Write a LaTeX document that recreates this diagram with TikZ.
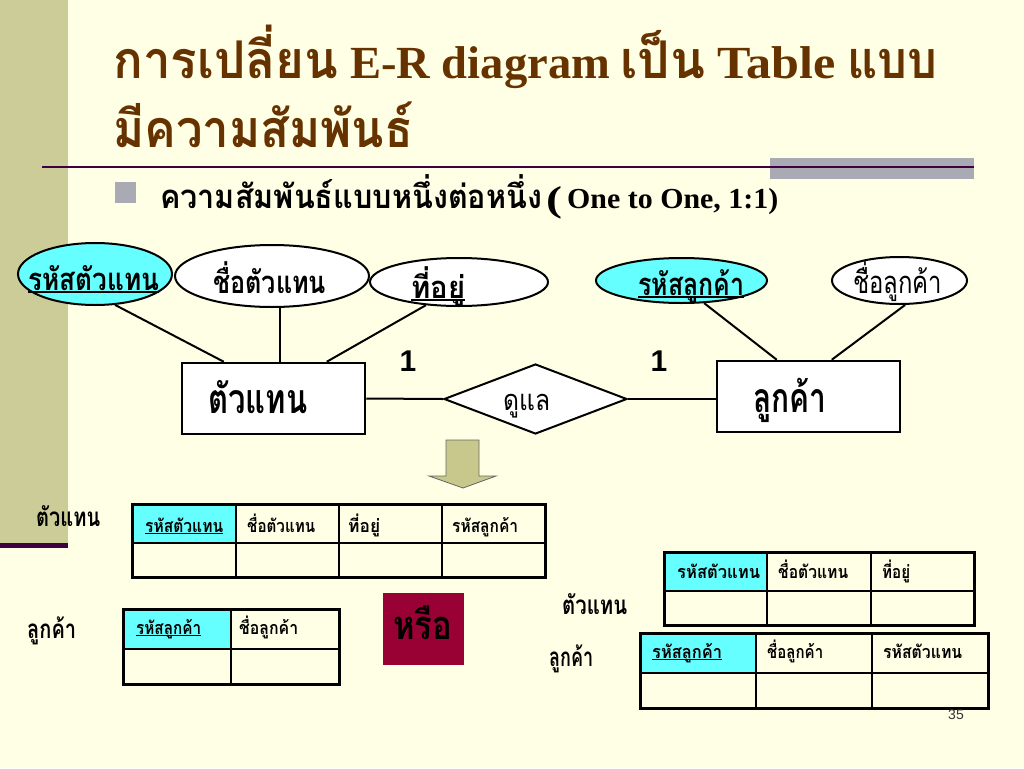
\documentclass[tikz,border=0pt]{standalone}
\usepackage{fontspec}
\setmainfont{Liberation Serif}
\newfontfamily\thai[Script=Thai]{Loma}
\newfontfamily\arial{Liberation Sans}
\usetikzlibrary{shapes.geometric,calc}
\definecolor{bg}{RGB}{255,255,229}
\definecolor{strip}{RGB}{204,204,153}
\definecolor{rulec}{RGB}{64,0,64}
\definecolor{graybar}{RGB}{170,170,180}
\definecolor{keyc}{RGB}{102,255,255}
\definecolor{titlec}{RGB}{102,51,0}
\definecolor{orbox}{RGB}{153,0,51}
\definecolor{arrowc}{RGB}{200,200,140}
\newcommand\ul[1]{\setbox0\hbox{#1}\rlap{\rule[-0.09em]{\wd0}{0.05em}}\box0}
\newcommand\fw[2]{\resizebox{#1pt}{\height}{#2}}
\newcommand\tth[2]{\fw{#1}{\thai\fontsize{52}{56}\selectfont #2}}
\begin{document}
\begin{tikzpicture}[x=1pt,y=-1pt,
  txt/.style={anchor=base west, inner sep=0pt},
  attr/.style={ellipse, draw, line width=2pt, fill=white, inner sep=0pt},
  ent/.style={rectangle, draw, line width=2.5pt, fill=white, minimum width=183pt, minimum height=71pt, inner sep=0pt},
  rel/.style={diamond, draw, line width=2pt, fill=white, minimum width=183pt, minimum height=70pt, inner sep=0pt},
  conn/.style={line width=2pt},
  thin/.style={line width=1.5pt},
  outer/.style={line width=3pt},
  big/.style={font=\thai\bfseries\fontsize{41}{44}\selectfont},
  mid/.style={font=\thai\bfseries\fontsize{31}{34}\selectfont},
  lab/.style={font=\thai\bfseries\fontsize{26}{28}\selectfont},
  cell/.style={font=\thai\bfseries\fontsize{18}{20}\selectfont}]
\useasboundingbox (0,0) rectangle (1024,768);
\fill[bg] (0,0) rectangle (1024,768);
\fill[strip] (0,0) rectangle (68,545);
\fill[rulec] (0,543) rectangle (68,548);
\fill[graybar] (770,158) rectangle (974,179);
\draw[rulec, line width=2.5pt] (42,167) -- (974,167);
\fill[graybar] (115,182) rectangle (136,203);

% title
\node[txt, text=titlec, font=\bfseries\fontsize{46}{50}\selectfont] (title1) at (113,78)
  {\tth{225}{การเปลี่ยน}\hspace{12pt}\fw{260}{E-R diagram}\hspace{10pt}\tth{85}{เป็น}\hspace{12pt}\fw{118}{Table}\hspace{12pt}\tth{90}{แบบ}};
\node[txt, text=titlec, font=\bfseries] (title2) at (113,147)
  {\tth{300}{มีความสัมพันธ์}};
\node[txt, font=\thai\bfseries\fontsize{33}{36}\selectfont] (sub1) at (160,208)
  {\fw{382}{ความสัมพันธ์แบบหนึ่งต่อหนึ่ง}};
\node[txt, font=\bfseries\fontsize{36}{38}\selectfont] (sub2) at (546,211) {\fw{16}{(}};
\node[txt, font=\bfseries\fontsize{29}{32}\selectfont] (sub3) at (567,208) {\fw{211}{One to One, 1:1)}};

% ER diagram
\node[attr, fill=keyc, minimum width=154pt, minimum height=62pt] (a1) at (95,274) {};
\node[attr, minimum width=194pt, minimum height=62pt] (a2) at (272,276) {};
\node[attr, minimum width=178pt, minimum height=48pt] (a3) at (459,282) {};
\node[attr, fill=keyc, minimum width=171pt, minimum height=45pt] (b1) at (681.5,280.5) {};
\node[attr, minimum width=135pt, minimum height=47pt] (b2) at (899.5,280.5) {};
\node[txt, mid] (a1t) at (28,290) {\fw{131}{\ul{รหัสตัวแทน}}};
\node[txt, mid] (a2t) at (213,293) {\fw{113}{ชื่อตัวแทน}};
\node[txt, mid] (a3t) at (411,298) {\fw{54}{\ul{ที่อยู่}}};
\node[txt, mid] (b1t) at (638,295) {\fw{106}{\ul{รหัสลูกค้า}}};
\node[txt, font=\thai\fontsize{31}{34}\selectfont] (b2t) at (853,293) {\fw{89}{ชื่อลูกค้า}};

\node[ent] (e1) at (273.5,398.5) {};
\node[ent] (e2) at (808.5,396.5) {};
\node[rel] (r) at (535.5,399) {};
\node[txt, big] (e1t) at (208,413) {\fw{99}{ตัวแทน}};
\node[txt, big] (e2t) at (753,412) {\fw{73}{ลูกค้า}};
\node[txt, font=\thai\fontsize{29}{32}\selectfont] (rt) at (503,410) {\fw{47}{ดูแล}};

\draw[conn] (a1.-57) -- ($(e1.north west)+(43,0)$);
\draw[conn] (a2.-76) -- (a2.-76 |- e1.north);
\draw[conn] (a3.-145) -- ($(e1.north west)+(146,0)$);
\draw[conn] (b1.-45) -- ($(e2.north west)+(61,0)$);
\draw[conn] (b2.-77) -- ($(e2.north west)+(116,0)$);
\draw[conn] (e1.east) -- (r.west);
\draw[conn] (r.east) -- (r.east -| e2.west);

\node[font=\arial\bfseries\fontsize{30}{32}\selectfont, inner sep=0pt] (one1) at (408,361) {1};
\node[font=\arial\bfseries\fontsize{30}{32}\selectfont, inner sep=0pt] (one2) at (659,361) {1};

% down arrow
\filldraw[fill=arrowc, draw=black!60, line width=0.8pt] (446,440) -- (479,440) -- (479,476) -- (496,476) -- (463,488) -- (429,476) -- (446,476) -- cycle;

% table 1
\fill[keyc] (132,504) rectangle (236,543);
\draw[thin] (132,543) -- (545,543) (236,504) -- (236,577) (339,504) -- (339,577) (442,504) -- (442,577);
\draw[outer] (132,504) rectangle (545,577);
\node[txt, cell] (t1a) at (145,532) {\fw{78}{\ul{รหัสตัวแทน}}};
\node[txt, cell] (t1b) at (247,532) {\fw{68}{ชื่อตัวแทน}};
\node[txt, cell] (t1c) at (348,532) {\fw{32}{ที่อยู่}};
\node[txt, cell] (t1d) at (452,532) {\fw{66}{รหัสลูกค้า}};
\node[txt, lab] (l1) at (36,526) {\fw{64}{ตัวแทน}};

% table 2
\fill[keyc] (123,609) rectangle (231,649);
\draw[thin] (123,649) -- (339,649) (231,609) -- (231,684);
\draw[outer] (123,609) rectangle (339,684);
\node[txt, cell] (t2a) at (136,634) {\fw{65}{\ul{รหัสลูกค้า}}};
\node[txt, cell] (t2b) at (239,634) {\fw{59}{ชื่อลูกค้า}};
\node[txt, lab] (l2) at (27,638) {\fw{49}{ลูกค้า}};

% or box
\fill[orbox] (383,593) rectangle (464,665);
\node[txt, font=\thai\bfseries\fontsize{40}{42}\selectfont] (or) at (393,639) {\fw{59}{หรือ}};

% table 3
\fill[keyc] (664,552) rectangle (767,591);
\draw[thin] (664,591) -- (974,591) (767,552) -- (767,625) (871,552) -- (871,625);
\draw[outer] (664,552) rectangle (974,625);
\node[txt, cell] (t3a) at (677,578) {\fw{83}{รหัสตัวแทน}};
\node[txt, cell] (t3b) at (778,578) {\fw{70}{ชื่อตัวแทน}};
\node[txt, cell] (t3c) at (882,578) {\fw{28}{ที่อยู่}};
\node[txt, lab] (l3) at (562,614) {\fw{65}{ตัวแทน}};

% table 4
\fill[keyc] (640,633) rectangle (756,673);
\draw[thin] (640,673) -- (988,673) (756,633) -- (756,708) (872,633) -- (872,708);
\draw[outer] (640,633) rectangle (988,708);
\node[txt, cell] (t4a) at (652,658) {\fw{70}{\ul{รหัสลูกค้า}}};
\node[txt, cell] (t4b) at (767,658) {\fw{56}{ชื่อลูกค้า}};
\node[txt, cell] (t4c) at (883,658) {\fw{79}{รหัสตัวแทน}};
\node[txt, lab] (l4) at (549,666) {\fw{44}{ลูกค้า}};

\node[txt, font=\arial\fontsize{14}{16}\selectfont, text=black!80] (pg) at (948,719) {35};
\end{tikzpicture}
\end{document}
